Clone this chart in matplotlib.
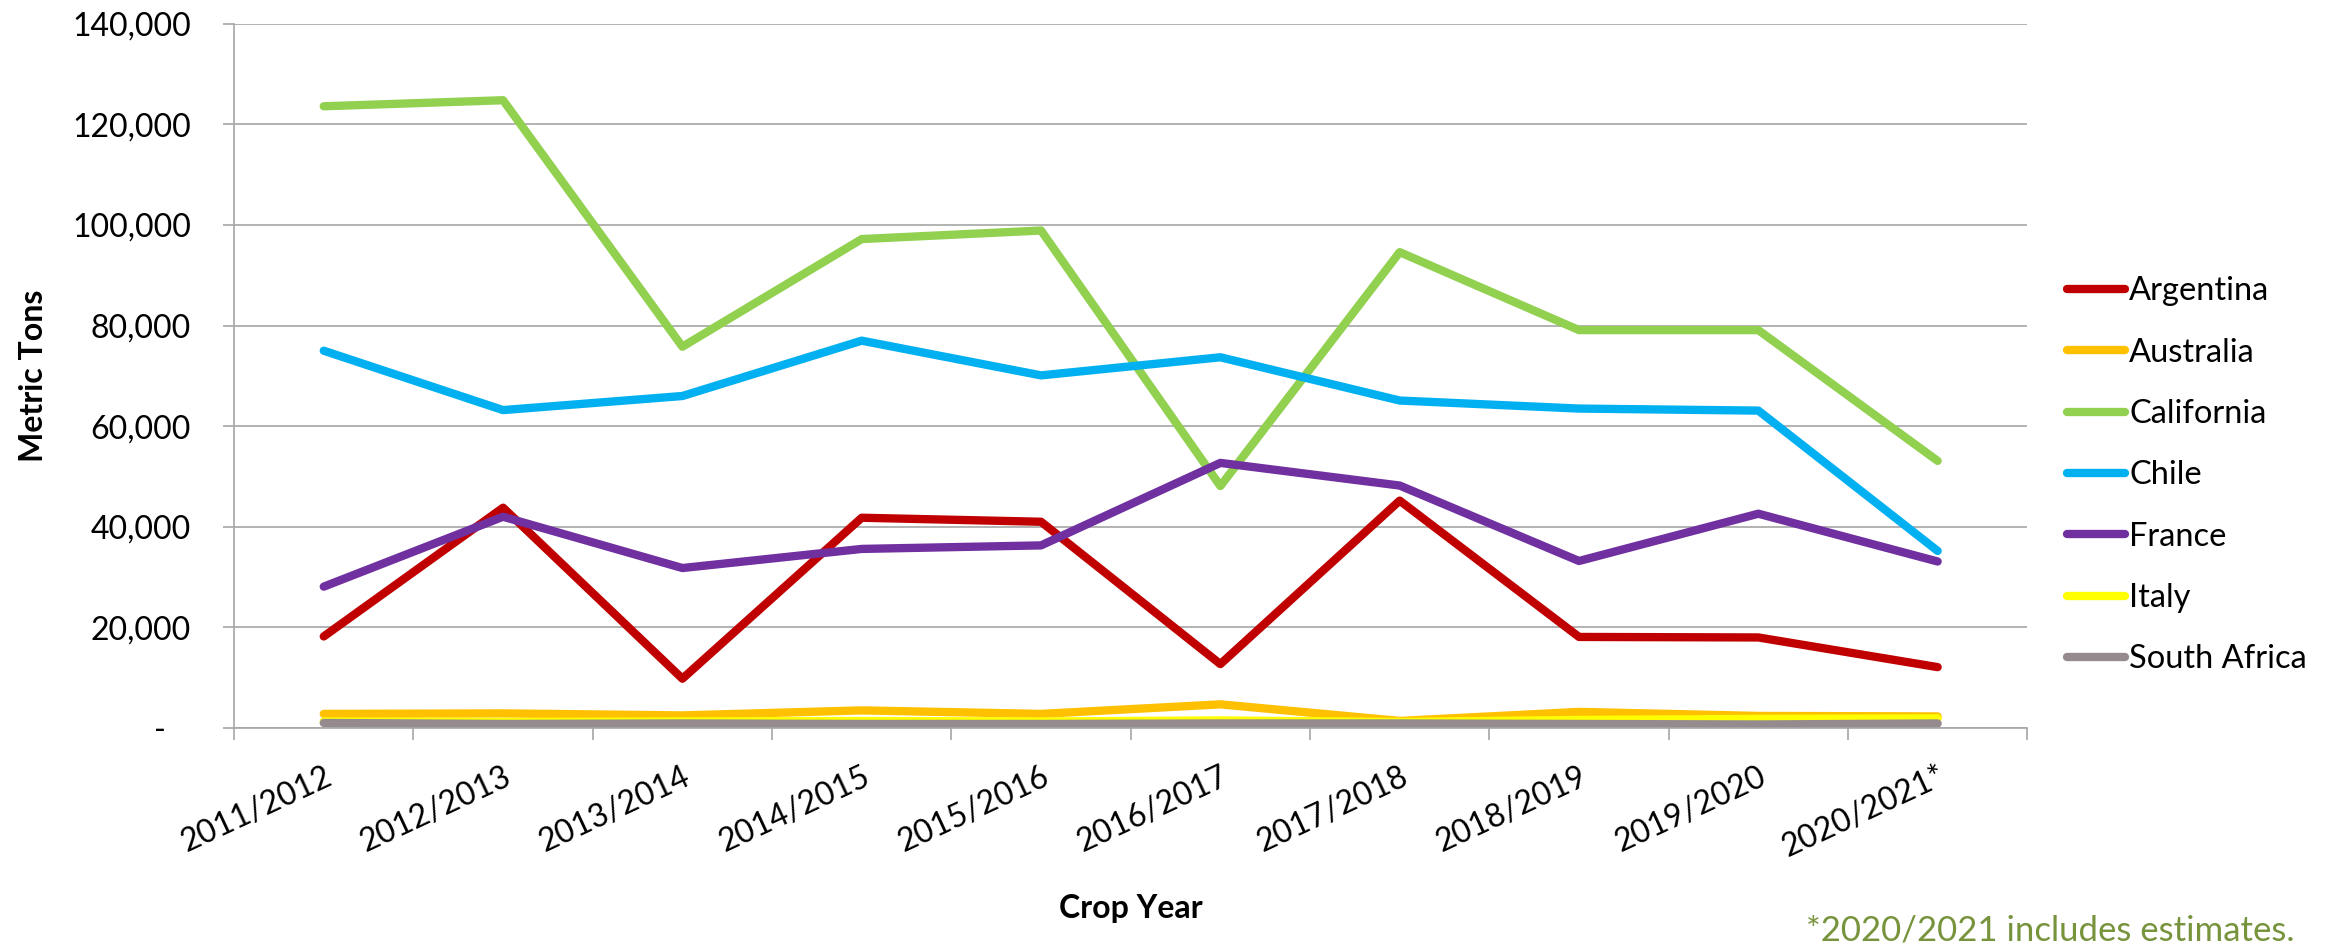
import matplotlib.pyplot as plt
import matplotlib.ticker as mticker
import numpy as np

years = ["2011/2012", "2012/2013", "2013/2014", "2014/2015", "2015/2016",
         "2016/2017", "2017/2018", "2018/2019", "2019/2020", "2020/2021*"]

argentina = [18200, 43800, 9800, 41800, 41000, 12700, 45200, 18100, 18000, 12100]
australia = [2800, 2900, 2500, 3500, 2800, 4700, 1400, 3200, 2400, 2300]
california = [123600, 124800, 75800, 97200, 98900, 48100, 94600, 79100, 79100, 53100]
chile = [75000, 63200, 66000, 77000, 70100, 73700, 65100, 63500, 63100, 35200]
france = [28100, 42000, 31800, 35600, 36300, 52700, 48200, 33200, 42600, 33100]
italy = [1300, 1200, 1300, 1400, 1300, 1500, 1200, 1600, 1800, 1900]
south_africa = [1000, 800, 900, 800, 800, 900, 900, 800, 700, 900]

series = [
    ("Argentina", argentina, "#C00000"),
    ("Australia", australia, "#FFC000"),
    ("California", california, "#92D050"),
    ("Chile", chile, "#00B0F0"),
    ("France", france, "#7030A0"),
    ("Italy", italy, "#FFFF00"),
    ("South Africa", south_africa, "#958B8F"),
]

plt.rcParams["font.family"] = ["Lato", "DejaVu Sans"]
grey = "#A6A6A6"

fig = plt.figure(figsize=(23.41, 9.51), dpi=100)
ax = fig.add_axes([0.1, 0.2345, 0.766, 0.7405])

x = np.arange(len(years)) + 0.5
for name, vals, color in series:
    ax.plot(x, vals, color=color, linewidth=6, solid_capstyle="round",
            solid_joinstyle="round", label=name)

ax.set_xlim(0, len(years))
ax.set_ylim(0, 140000)
ax.set_yticks(np.arange(0, 140001, 20000))
ax.yaxis.set_major_formatter(mticker.FuncFormatter(
    lambda v, p: "-   " if v == 0 else f"{int(v):,}"))
ax.yaxis.grid(True, color=grey, linewidth=1.2)
ax.set_axisbelow(True)

# category boundaries get the tick marks, labels sit in the middle
ax.set_xticks(np.arange(0, len(years) + 1))
ax.set_xticklabels([])
ax.set_xticks(x, minor=True)
ax.set_xticklabels(years, minor=True, rotation=25, ha="right", va="top",
                   rotation_mode="anchor", fontsize=23)
ax.tick_params(axis="x", which="minor", length=0, pad=24)
ax.tick_params(axis="x", which="major", length=8.5, color=grey, width=1.2)
ax.tick_params(axis="y", length=8, color=grey, width=1.2,
               labelsize=23, pad=23)

for side in ["top", "right"]:
    ax.spines[side].set_visible(False)
for side in ["left", "bottom"]:
    ax.spines[side].set_color(grey)
    ax.spines[side].set_linewidth(1.2)

ax.set_xlabel("Crop Year", fontsize=23, fontweight="bold", va="center")
ax.xaxis.set_label_coords(0.5, -0.257)
ax.set_ylabel("Metric Tons", fontsize=23, fontweight="bold", va="center")
ax.yaxis.set_label_coords(-0.112, 0.5)

fig.legend(loc="center left", bbox_to_anchor=(0.883, 0.5), frameon=False,
           prop={"size": 23.5}, handlelength=1.78, handletextpad=0.12,
           labelspacing=0.96, borderpad=0, borderaxespad=0)

fig.text(0.98, 0.022, "*2020/2021 includes estimates.", ha="right",
         va="center", color="#77933C", fontsize=25)

fig.savefig("out.png", dpi=100)
